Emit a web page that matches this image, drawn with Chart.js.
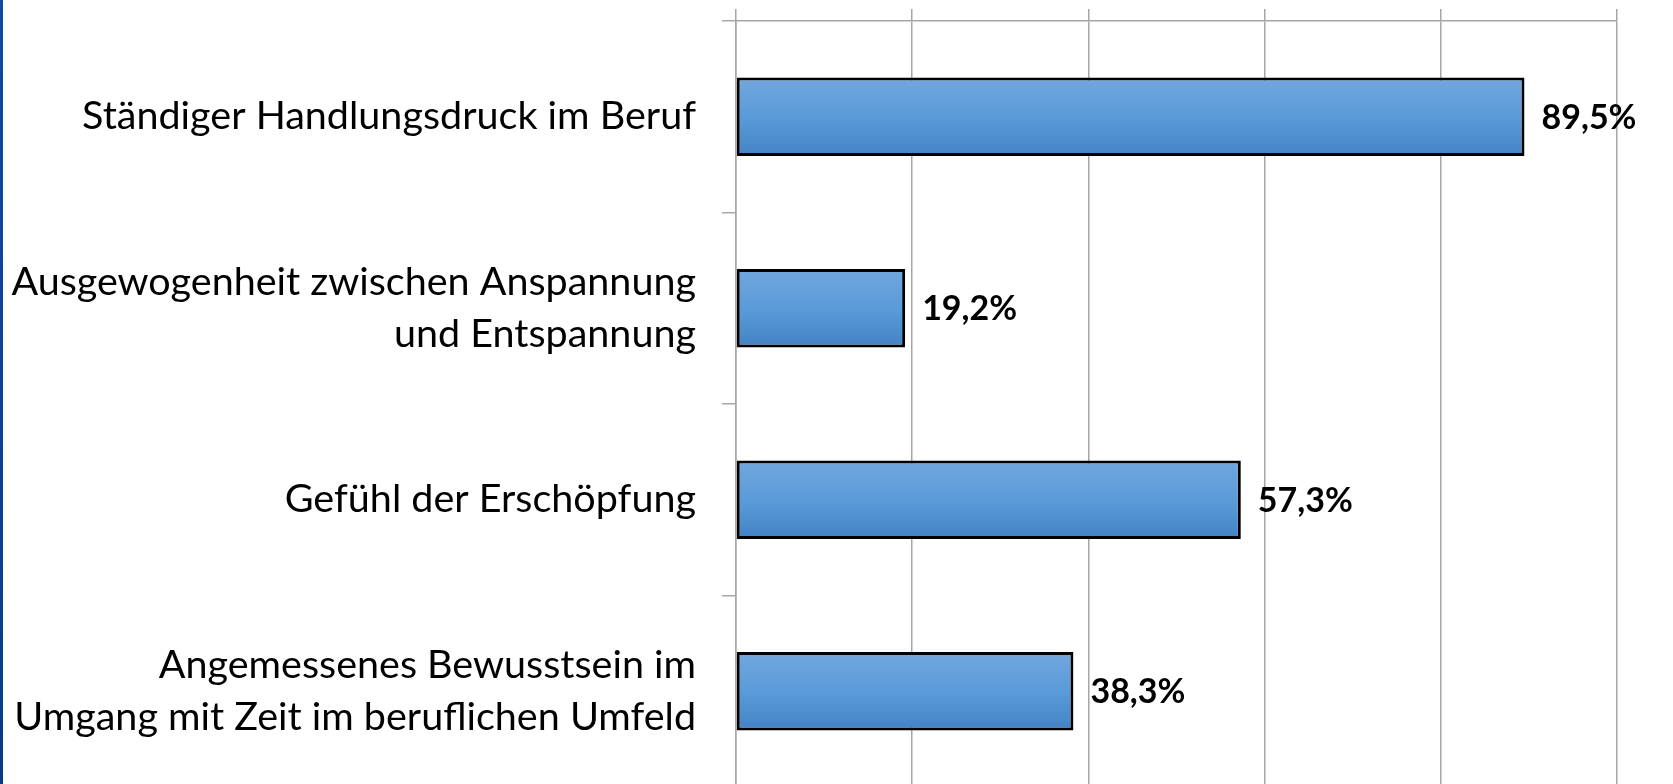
<!DOCTYPE html>
<html>
<head>
<meta charset="utf-8">
<script src="https://cdn.jsdelivr.net/npm/chart.js@4/dist/chart.umd.min.js"></script>
<style>
    html, body { margin: 0; padding: 0; background: #fff; overflow: hidden; }
    #wrap { position: relative; width: 1673px; height: 784px; }
    #strip { position: absolute; left: 0; top: 0; width: 3px; height: 784px;
             background: linear-gradient(#0c4aa6, #093a86); z-index: 2; }
    canvas { position: absolute; left: 0; top: 0; }
</style>
</head>
<body>
<div id="wrap">
    <div id="strip"></div>
    <canvas id="barChart" width="1673" height="790"></canvas>
</div>
<script>
const categories = [
    'Ständiger Handlungsdruck im Beruf',
    ['Ausgewogenheit zwischen Anspannung', 'und Entspannung'],
    'Gefühl der Erschöpfung',
    ['Angemessenes Bewusstsein im', 'Umgang mit Zeit im beruflichen Umfeld']
];
const values = [89.5, 19.2, 57.3, 38.3];
const xTicks = [0, 20, 40, 60, 80, 100];

const FONT = 'Lato';
const GRID = '#a6a6a6';
const BAR_PCT = 0.41;

// vertical gradient for each bar, built from the y scale
function barGradient(c) {
    const chart = c.chart;
    const yScale = chart.scales.y;
    if (!chart.chartArea || !yScale) return '#5b9bd5';
    const band = (yScale.bottom - yScale.top) / categories.length;
    const center = yScale.getPixelForValue(c.dataIndex);
    const half = band * BAR_PCT / 2;
    const g = chart.ctx.createLinearGradient(0, center - half, 0, center + half);
    g.addColorStop(0, '#72a7dd');
    g.addColorStop(0.5, '#5a9bd9');
    g.addColorStop(1, '#4383c5');
    return g;
}

// value labels next to bar ends
const valueLabelPlugin = {
    id: 'valueLabels',
    afterDatasetsDraw(chart) {
        const ctx = chart.ctx;
        const meta = chart.getDatasetMeta(0);
        ctx.save();
        ctx.font = `bold 34px ${FONT}`;
        ctx.fillStyle = '#000';
        ctx.textAlign = 'left';
        ctx.textBaseline = 'middle';
        meta.data.forEach((bar, i) => {
            const text = values[i].toFixed(1).replace('.', ',') + '%';
            ctx.fillText(text, bar.x + 17, bar.y + 1);
        });
        ctx.restore();
    }
};

const ctx = document.getElementById('barChart').getContext('2d');
new Chart(ctx, {
    type: 'bar',
    data: {
        labels: categories,
        datasets: [{
            data: values,
            backgroundColor: barGradient,
            borderColor: '#000',
            borderWidth: 3,
            borderSkipped: false,
            categoryPercentage: 1,
            barPercentage: BAR_PCT
        }]
    },
    options: {
        indexAxis: 'y',
        responsive: false,
        animation: false,
        layout: { padding: { left: 0, right: 56, top: 0, bottom: 3 } },
        plugins: {
            legend: { display: false },
            tooltip: { enabled: false }
        },
        scales: {
            x: {
                position: 'top',
                min: xTicks[0],
                max: xTicks[xTicks.length - 1],
                afterBuildTicks: (scale) => {
                    scale.ticks = xTicks.map(v => ({ value: v }));
                },
                ticks: { display: false },
                grid: { color: GRID, lineWidth: 1.5, drawTicks: true, tickLength: 12 },
                border: { display: true, color: GRID, width: 1.5 },
                afterFit: (scale) => {
                    scale.height = 21;
                    scale.paddingLeft = 0;
                    scale.paddingRight = 0;
                }
            },
            y: {
                grid: { drawOnChartArea: false, drawTicks: true, tickLength: 14, color: GRID, lineWidth: 1.5, offset: true },
                border: { display: true, color: GRID, width: 1.5 },
                ticks: {
                    color: '#000',
                    padding: 26,
                    font: { family: FONT, size: 39.5, lineHeight: 1.3 }
                },
                afterFit: (scale) => {
                    scale.width = 736;
                    scale.paddingTop = 0;
                    scale.paddingBottom = 0;
                }
            }
        }
    },
    plugins: [valueLabelPlugin]
});
</script>
</body>
</html>
